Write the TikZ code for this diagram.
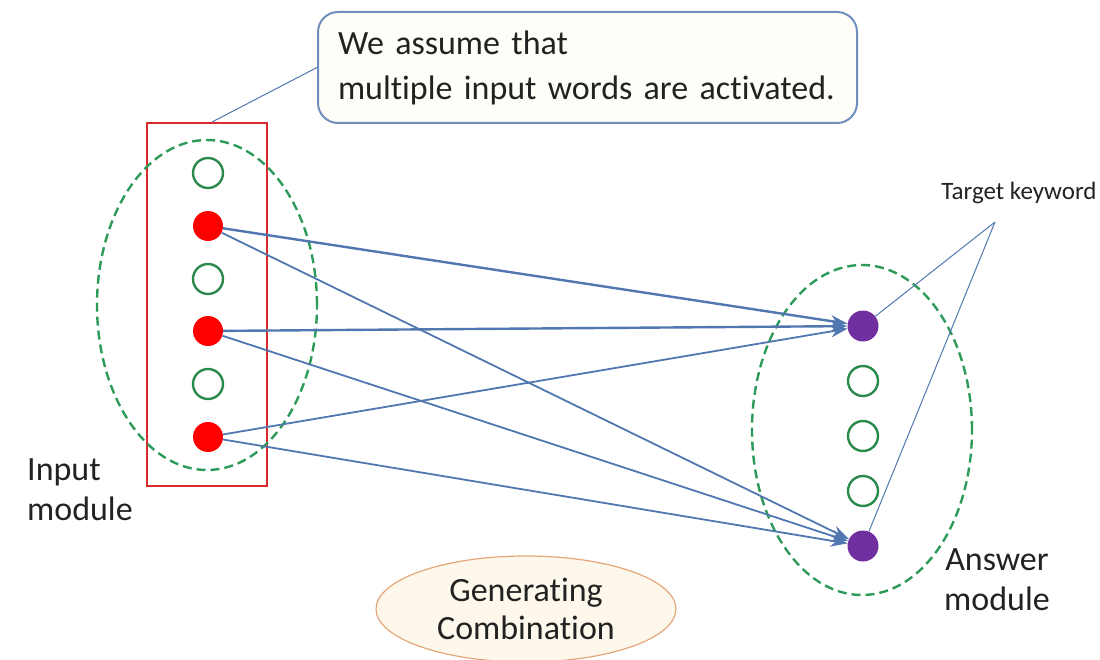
\documentclass[tikz,border=0pt]{standalone}
\usepackage{fontspec}
\setmainfont[Ligatures=NoCommon]{Carlito}
\usetikzlibrary{arrows.meta,shapes.geometric}
\definecolor{linkblue}{HTML}{5177B0}
\definecolor{ringgreen}{HTML}{2E9A5A}
\definecolor{dotgreen}{HTML}{2A8A4C}
\definecolor{boxred}{HTML}{D92A2A}
\definecolor{keypurple}{HTML}{7030A0}
\definecolor{calloutedge}{HTML}{6F90BF}
\definecolor{calloutfill}{HTML}{FFFDF8}
\definecolor{ovaledge}{HTML}{E3A77A}
\definecolor{ovalfill}{HTML}{FEF7EC}
\definecolor{inktext}{HTML}{222222}

\tikzset{
  idle/.style={circle, draw=dotgreen, line width=2.4pt, minimum size=30pt, inner sep=0pt},
  active/.style={circle, fill=red, minimum size=30pt, inner sep=0pt},
  keyword/.style={circle, fill=keypurple, minimum size=31pt, inner sep=0pt},
  group/.style={ellipse, draw=ringgreen, line width=2.4pt, dash pattern=on 9pt off 5pt, inner sep=0pt},
  link/.style={draw=linkblue, line width=1.8pt, -{Stealth[length=17pt,width=12pt]}},
  thin link/.style={draw=linkblue, line width=1pt},
  label/.style={text=inktext, font=\fontsize{34}{40}\selectfont, inner sep=0pt},
}

\begin{document}
\begin{tikzpicture}[x=1pt,y=-1pt]
\useasboundingbox (0,0) rectangle (1100,660);

% callout
\node[draw=calloutedge, fill=calloutfill, line width=2pt, rounded corners=20pt,
      text width=499pt, inner xsep=20pt, minimum height=111pt, align=left,
      text=inktext, font=\fontsize{34}{45}\selectfont] (co) at (587.5,67.5)
  {We assume that\\multiple input words are activated.};

% input selection frame and group
\node[draw=boxred, line width=2.6pt, minimum width=120pt, minimum height=363pt, inner sep=0pt] (sel) at (207,304.5) {};
\node[group, minimum width=220pt, minimum height=330pt] (ing) at (207,305) {};

% input words
\node[idle]   (a1) at (208,173) {};
\node[active] (a2) at (208,226) {};
\node[idle]   (a3) at (208,279) {};
\node[active] (a4) at (208,331) {};
\node[idle]   (a5) at (208,384) {};
\node[active] (a6) at (208,437) {};

% answer group and words
\node[group, minimum width=220pt, minimum height=330pt] (ang) at (862,430) {};
\node[keyword] (b1) at (863,326) {};
\node[idle]    (b2) at (863,381) {};
\node[idle]    (b3) at (863,436) {};
\node[idle]    (b4) at (863,491) {};
\node[keyword] (b5) at (863,546) {};

% callout pointer
\coordinate (tip) at (212,122);
\draw[thin link] (tip) -- (co.west);

% combinations
\draw[link, line width=2.4pt] (a2) -- (b1);
\draw[link, line width=2.4pt] (a4) -- (b1);
\draw[link] (a6) -- (b1);
\draw[link] (a2) -- (b5);
\draw[link] (a4) -- (b5);
\draw[link] (a6) -- (b5);

% target keyword label
\node[text=inktext, font=\fontsize{25}{28}\selectfont, inner sep=0pt] (tk) at (1019,193) {Target keyword};
\coordinate (tkp) at (995,222);
\draw[thin link] (tkp) -- (b1);
\draw[thin link] (tkp) -- (b5);

% module labels
\node[label, align=left, anchor=west] (inl) at (27,490) {Input\\module};
\node[label, align=center] (anl) at (997,580) {Answer\\module};

% generating combination
\node[ellipse, draw=ovaledge, fill=ovalfill, line width=1.2pt, minimum width=300pt, minimum height=106pt,
      align=center, text=inktext, font=\fontsize{34}{38}\selectfont] (gen) at (526,609)
  {Generating\\Combination};
\end{tikzpicture}
\end{document}
